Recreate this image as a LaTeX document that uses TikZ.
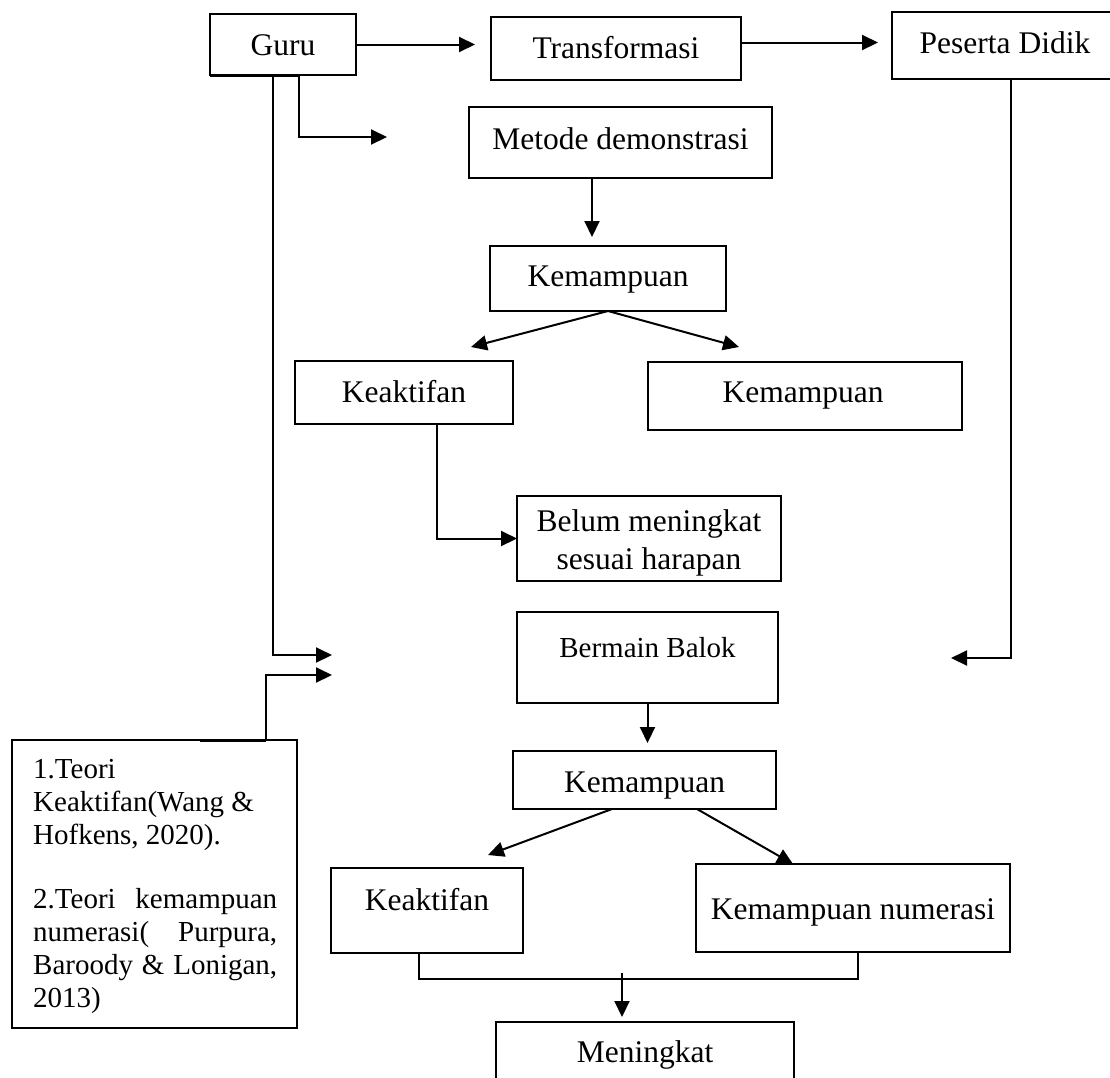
\documentclass[tikz,border=0pt]{standalone}
\usepackage{fontspec}
\setmainfont{Liberation Serif}
\usetikzlibrary{arrows.meta,calc}
\begin{document}
\begin{tikzpicture}[x=1pt,y=-1pt,
  box/.style={draw, line width=1.9pt, rectangle, inner sep=0pt, outer sep=0pt},
  big/.style={font=\fontsize{31.5}{37}\selectfont, inner sep=0pt, anchor=base},
  small/.style={font=\fontsize{29}{33}\selectfont, inner sep=0pt, anchor=base},
  smallw/.style={font=\fontsize{29}{33}\selectfont, inner sep=0pt, anchor=base west},
  arr/.style={line width=2pt, -{Triangle[length=16pt,width=15pt]}},
  joinline/.style={line width=1.1pt}]
\useasboundingbox (0,0) rectangle (1110,1077);
\fill[white] (0,0) rectangle (1110,1077);
\clip (0,0) rectangle (1110,1077);

% boxes
\node[box, minimum width=146pt, minimum height=61pt] (guru) at (283,44.5) {};
\node[big] (gurut) at (283,55) {Guru};
\node[box, minimum width=250pt, minimum height=63pt] (trans) at (616,48.5) {};
\node[big] (transt) at (616,58) {Transformasi};
\node[box, minimum width=226pt, minimum height=67pt] (peserta) at (1005,45.5) {};
\node[big] (pesertat) at (1005,53) {Peserta Didik};
\node[box, minimum width=303pt, minimum height=71pt] (metode) at (620.5,142.5) {};
\node[big] (metodet) at (620.5,149) {Metode demonstrasi};
\node[box, minimum width=236pt, minimum height=65pt] (kem1) at (608,278.5) {};
\node[big] (kem1t) at (608,286) {Kemampuan};
\node[box, minimum width=218pt, minimum height=63pt] (keak1) at (404,392.5) {};
\node[big] (keak1t) at (404,402) {Keaktifan};
\node[box, minimum width=314pt, minimum height=68pt] (kem2) at (805,396) {};
\node[big] (kem2t) at (803,402) {Kemampuan};
\node[box, minimum width=264pt, minimum height=85pt] (belum) at (649,538.5) {};
\node[big] (belumta) at (649,531) {Belum meningkat};
\node[big] (belumtb) at (649,569) {sesuai harapan};
\node[box, minimum width=261pt, minimum height=91pt] (bermain) at (647.5,657.5) {};
\node[small] (bermaint) at (647.5,657) {Bermain Balok};
\node[box, minimum width=263pt, minimum height=58pt] (kem3) at (644.5,780) {};
\node[big] (kem3t) at (644.5,792) {Kemampuan};
\node[box, minimum width=192pt, minimum height=85pt] (keak2) at (427,910.5) {};
\node[big] (keak2t) at (427,910) {Keaktifan};
\node[box, minimum width=314pt, minimum height=88pt] (kemnum) at (853,908) {};
\node[big] (kemnumt) at (853,919) {Kemampuan numerasi};
\node[box, minimum width=298pt, minimum height=68pt] (meningkat) at (645,1056) {};
\node[big] (meningkatt) at (645,1062) {Meningkat};
\node[box, minimum width=285pt, minimum height=288pt] (teori) at (154.5,884) {};
\node[smallw] (teori1) at (33,778) {1.Teori};
\node[smallw] (teori2) at (33,811) {Keaktifan(Wang \&};
\node[smallw] (teori3) at (33,844) {Hofkens, 2020).};
\node[smallw] (teori4) at (33,908) {\makebox[244pt][s]{2.Teori kemampuan}};
\node[smallw] (teori5) at (33,941) {\makebox[244pt][s]{numerasi( Purpura,}};
\node[smallw] (teori6) at (33,974) {\makebox[244pt][s]{Baroody \& Lonigan,}};
\node[smallw] (teori7) at (33,1007) {2013)};

% thick border fragments
\draw[line width=3pt] (guru.south west) -- ++(90,0);
\draw[line width=3pt] ([xshift=188pt]teori.north west) -- ++(66,0);

% free ends
\coordinate (gm) at (387,137);
\coordinate (c1) at (332,655);
\coordinate (c2) at (332,675);
\coordinate (c3) at (951,658);
\coordinate (kt1) at (471,347);
\coordinate (kt2) at (739,347);
\coordinate (kt3) at (488,855);
\coordinate (jm) at (622,973);

% connectors
\draw[arr, shorten >=16pt] (guru.east) -- (guru.east -| trans.west);
\draw[arr, shorten >=14pt] ([yshift=6pt]trans.east) -- ([yshift=6pt]trans.east -| peserta.west);
\draw[arr] ([xshift=16pt]guru.south) |- (gm);
\draw[arr] ([xshift=-10pt]guru.south) |- (c1);
\draw[arr] ([xshift=111.5pt]teori.north) |- (c2);
\draw[arr] ([xshift=6pt]peserta.south) |- (c3);
\draw[arr, shorten >=9pt] ([xshift=-28.5pt]metode.south) -- ([xshift=-28.5pt]metode.south |- kem1.north);
\draw[arr] (kem1.south) -- (kt1);
\draw[arr] (kem1.south) -- (kt2);
\draw[arr] ([xshift=33pt]keak1.south) |- (belum.west);
\draw[arr, shorten >=8pt] (bermain.south) -- (bermain.south |- kem3.north);
\draw[arr] ([xshift=-32.5pt]kem3.south) -- (kt3);
\draw[arr] ([xshift=52.5pt]kem3.south) -- ([xshift=-60pt]kemnum.north);
\draw[joinline] ([xshift=-8pt]keak2.south) -- ++(0,26) -| ([xshift=5pt]kemnum.south);
\draw[arr, shorten >=5pt] (jm) -- (jm |- meningkat.north);
\end{tikzpicture}
\end{document}
